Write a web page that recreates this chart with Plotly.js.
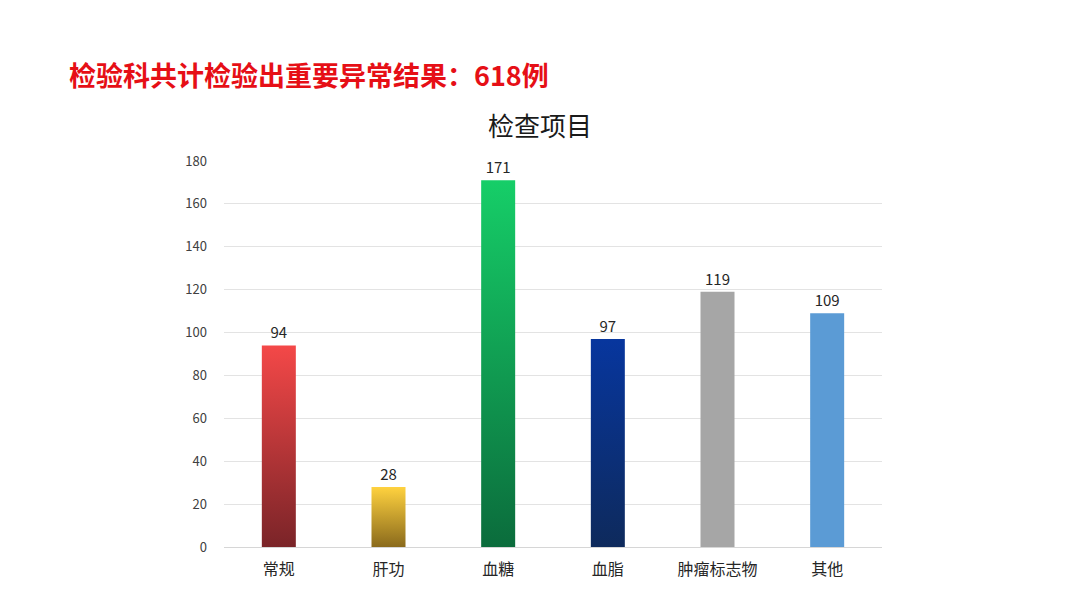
<!DOCTYPE html>
<html><head><meta charset="utf-8">
<script src="https://cdn.plot.ly/plotly-3.0.1.min.js"></script>
<style>html,body{margin:0;padding:0;background:#fff;}#c{width:1080px;height:608px;}</style>
</head><body><div id="c"></div>
<script>
const categories = ["常规","肝功","血糖","血脂","肿瘤标志物","其他"];
const values = [94, 28, 171, 97, 119, 109];
const topColors = ["#F44848","#FFD23F","#16CE68","#07369E","#A6A6A6","#5B9BD5"];
const bottomColors = ["#7A2428","#8A6A1C","#0B6C3C","#0E2A5C","#A6A6A6","#5B9BD5"];
const tickVals = [0,20,40,60,80,100,120,140,160,180];

const font = '"Noto Sans CJK SC", "Microsoft YaHei", sans-serif';
const data = [{
  type: 'bar', x: categories, y: values,
  marker: {color: topColors, line: {width: 0}},
  text: values.map(String), textposition: 'outside', cliponaxis: false,
  constraintext: 'none',
  textfont: {family: font, size: 15, color: '#262626'},
  hoverinfo: 'none'
}];
const layout = {
  width: 1080, height: 608,
  margin: {l: 224, r: 198, t: 161, b: 61},
  paper_bgcolor: '#fff', plot_bgcolor: '#fff',
  bargap: 0.69,
  showlegend: false,
  font: {family: font},
  title: {text: '检查项目', x: 540/1080, xanchor: 'center', y: 1-127/608, yanchor: 'middle',
          font: {family: font, size: 26, color: '#1a1a1a'}},
  xaxis: {type: 'category', showgrid: false, showline: false, ticks: '', zeroline: false,
          tickfont: {family: font, size: 16, color: '#262626'}, ticklabelstandoff: 11},
  yaxis: {range: [0, 180], tickvals: tickVals, ticktext: tickVals.map(String),
          showgrid: true, gridcolor: '#E3E3E3', gridwidth: 1, zeroline: true, zerolinecolor: '#D6D6D6',
          showline: false, ticks: '', tickfont: {family: font, size: 13, color: '#404040'}, ticklabelstandoff: 16},
  annotations: [{text: '<b>检验科共计检验出重要异常结果：618例</b>', xref: 'paper', yref: 'paper',
    x: (67-224)/658, xanchor: 'left', y: 1 + (161-74)/386, yanchor: 'middle', showarrow: false,
    font: {family: font, size: 27, color: '#E60F16'}}]
};
Plotly.newPlot('c', data, layout, {displayModeBar: false, staticPlot: true}).then(gd => {
  const svg = gd.querySelector('svg.main-svg');
  const ns = 'http://www.w3.org/2000/svg';
  let defs = svg.querySelector('defs');
  if (!defs) { defs = document.createElementNS(ns, 'defs'); svg.insertBefore(defs, svg.firstChild); }
  const paths = gd.querySelectorAll('.bars .point path');
  paths.forEach((p, i) => {
    const g = document.createElementNS(ns, 'linearGradient');
    g.setAttribute('id', 'bg' + i);
    g.setAttribute('x1', '0'); g.setAttribute('y1', '0'); g.setAttribute('x2', '0'); g.setAttribute('y2', '1');
    const s1 = document.createElementNS(ns, 'stop'); s1.setAttribute('offset', '0'); s1.setAttribute('stop-color', topColors[i]);
    const s2 = document.createElementNS(ns, 'stop'); s2.setAttribute('offset', '1'); s2.setAttribute('stop-color', bottomColors[i]);
    g.appendChild(s1); g.appendChild(s2); defs.appendChild(g);
    p.style.fill = 'url(#bg' + i + ')';
  });
});
</script></body></html>
